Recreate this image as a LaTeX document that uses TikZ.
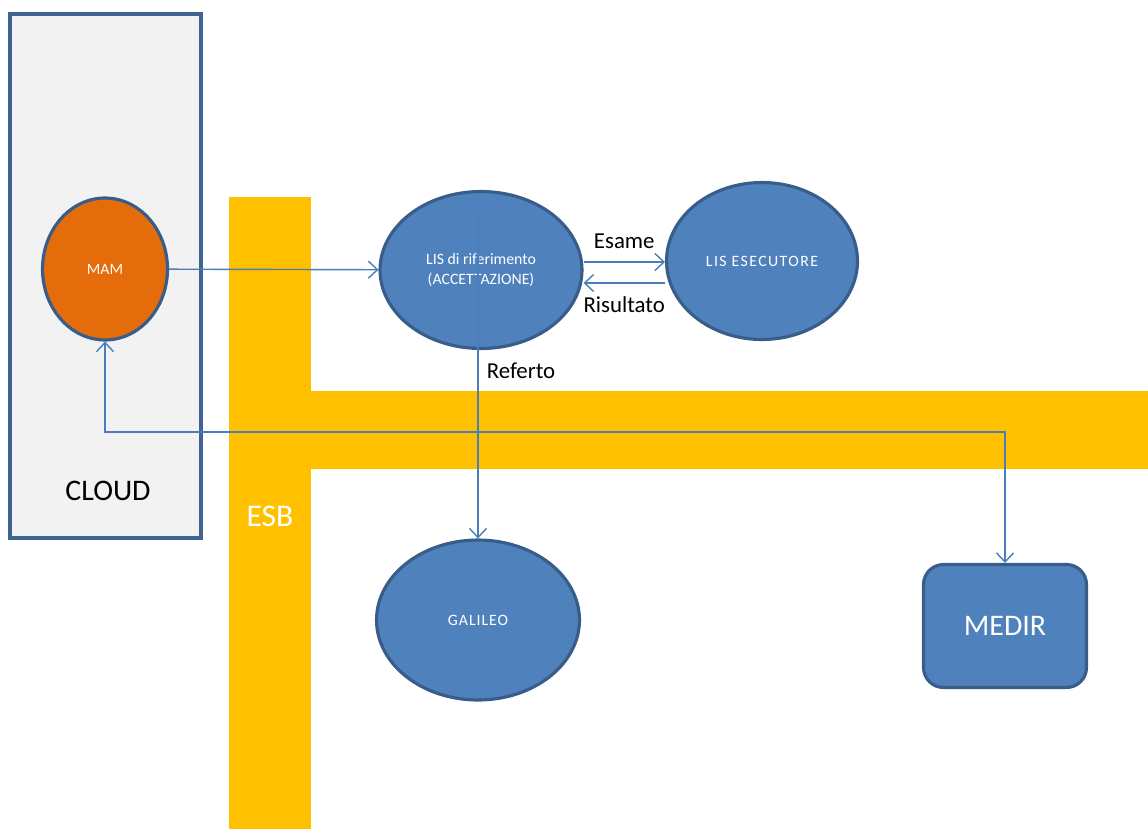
\documentclass[tikz,border=0pt]{standalone}
\usepackage{fontspec}
\setmainfont{Carlito}
\usetikzlibrary{shapes.geometric,arrows.meta}
\definecolor{bleuNoeud}{HTML}{4F81BD}
\definecolor{bordNoeud}{HTML}{385D8A}
\definecolor{orangeMam}{HTML}{E46C0A}
\definecolor{jauneEsb}{HTML}{FFC000}
\definecolor{grisCloud}{HTML}{F2F2F2}
\definecolor{bordCloud}{HTML}{41638F}
\definecolor{lien}{HTML}{4A7EBB}
\tikzset{
	noeud/.style={ellipse, draw=bordNoeud, line width=1.8pt, fill=bleuNoeud, text=white, font=\fontsize{9}{11}\selectfont, align=center, inner sep=0pt},
	lien/.style={draw=lien, line width=0.8pt},
	etiquette/.style={font=\fontsize{13}{15}\selectfont},
	>={Straight Barb[length=1.8mm,width=3.4mm]}
}
\begin{document}
\begin{tikzpicture}[x=0.02cm, y=-0.02cm]
	\useasboundingbox (0,0) rectangle (1148,829);
	
	% Zone cloud
	\draw[bordCloud, fill=grisCloud, line width=2pt] (10,14) rectangle (201,538);
	\node (cloud) at (108,491) {\fontsize{17}{20}\selectfont CLOUD};
	
	% Bus ESB
	\fill[jauneEsb] (229,197) rectangle (311,829);
	\fill[jauneEsb] (311,391) rectangle (1148,469);
	\node[text=white] (esb) at (270,516) {\fontsize{18}{21}\selectfont ESB};
	
	% Noeuds
	\node[noeud, fill=orangeMam, minimum width=2.5cm, minimum height=2.84cm] (mam) at (105,269) {MAM};
	\node[noeud, minimum width=4.04cm, minimum height=3.14cm] (lisrif) at (481,270) {LIS di riferimento\\(ACCETTAZIONE)};
	\node[noeud, minimum width=3.82cm, minimum height=3.14cm] (lisese) at (762,261) {\addfontfeature{LetterSpace=9}LIS ESECUTORE};
	\node[noeud, minimum width=4.06cm, minimum height=3.2cm] (galileo) at (478,620) {\addfontfeature{LetterSpace=6}GALILEO};
	\node[noeud, rectangle, rounded corners=0.4cm, minimum width=3.26cm, minimum height=2.46cm, font=\fontsize{17}{20}\selectfont] (medir) at (1005,626) {MEDIR};
	
	% Liens
	\coordinate (refsrc) at (478,215);
	\coordinate (bus) at (0,432);
	\draw[lien, ->] (mam) -- (lisrif);
	\draw[lien, ->] ([yshift=0.16cm]lisrif.east) -- ([yshift=0.16cm]lisrif.east -| lisese.west) node[midway, above=4pt, etiquette] (esame) {Esame};
	\draw[lien, ->] ([yshift=-0.44cm]lisese.west) -- ([yshift=-0.44cm]lisese.west -| lisrif.east) node[midway, below=4pt, etiquette] (risultato) {Risultato};
	\draw[lien, ->] (refsrc) -- (galileo.north);
	\node[etiquette] (referto) at (521,371) {Referto};
	\draw[lien, <->] (mam.south) -- (mam.south |- bus) -| (medir.north);
\end{tikzpicture}
\end{document}
